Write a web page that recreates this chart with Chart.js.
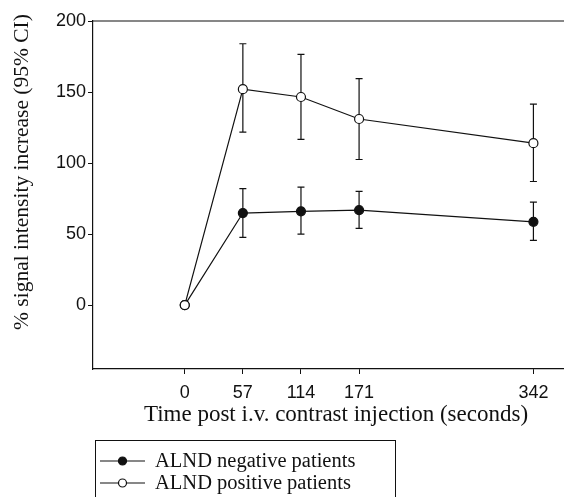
<!DOCTYPE html>
<html>
<head>
<meta charset="utf-8">
<script src="https://cdn.jsdelivr.net/npm/chart.js@4.4.0/dist/chart.umd.min.js"></script>
<style>
  body { margin: 0; background: #fff; }
  #wrap { width: 564px; height: 497px; }
</style>
</head>
<body>
<div id="wrap"><canvas id="signal" width="564" height="497"></canvas></div>
<script>
// time points (seconds) and tick values
const times = [0, 57, 114, 171, 342];
const xTicks = [0, 57, 114, 171, 342];
const yTicks = [0, 50, 100, 150, 200];

// ALND negative patients: mean and 95% CI
const negMean = [0, 64.8, 66, 66.8, 58.6];
const negUpper = [null, 82, 83, 80, 72.5];
const negLower = [null, 47.7, 50, 54, 45.5];

// ALND positive patients: mean and 95% CI
const posMean = [0, 152, 146.5, 131, 114];
const posUpper = [null, 184, 176.5, 159.5, 141.5];
const posLower = [null, 121.8, 116.6, 102.5, 87];

const ink = '#111';
const serif = '"Liberation Serif", "Times New Roman", serif';
const sans = '"Liberation Sans", Arial, sans-serif';

const toPoints = (ys) => times.map((t, i) => ({ x: t, y: ys[i] }));

// error bars, drawn under the markers
const errorBars = {
    id: 'errorBars',
    beforeDatasetsDraw(chart) {
        const { ctx, scales: { x, y } } = chart;
        ctx.save();
        ctx.strokeStyle = ink;
        ctx.lineWidth = 1.2;
        chart.data.datasets.forEach(ds => {
            ds.upper.forEach((hi, i) => {
                if (hi === null) return;
                const px = x.getPixelForValue(times[i]);
                const top = y.getPixelForValue(hi);
                const bot = y.getPixelForValue(ds.lower[i]);
                ctx.beginPath();
                ctx.moveTo(px, top); ctx.lineTo(px, bot);
                ctx.moveTo(px - 3.5, top); ctx.lineTo(px + 3.5, top);
                ctx.moveTo(px - 3.5, bot); ctx.lineTo(px + 3.5, bot);
                ctx.stroke();
            });
        });
        ctx.restore();
    }
};

// top frame line, axis titles and the boxed legend
const decorations = {
    id: 'decorations',
    afterDraw(chart) {
        const { ctx, chartArea } = chart;
        ctx.save();
        ctx.strokeStyle = ink;
        ctx.lineWidth = 1.2;
        ctx.beginPath();
        ctx.moveTo(chartArea.left, chartArea.top);
        ctx.lineTo(chartArea.right, chartArea.top);
        ctx.stroke();

        ctx.fillStyle = ink;
        ctx.textAlign = 'center';
        ctx.textBaseline = 'middle';
        ctx.font = '23px ' + serif;
        ctx.fillText('Time post i.v. contrast injection (seconds)', 336, 415);

        ctx.save();
        ctx.font = '21.5px ' + serif;
        ctx.translate(22, 172);
        ctx.rotate(-Math.PI / 2);
        ctx.fillText('% signal intensity increase (95% CI)', 0, 0);
        ctx.restore();

        // legend
        ctx.lineWidth = 1;
        ctx.strokeRect(95.5, 440.5, 300, 90);
        ctx.font = '20.5px ' + serif;
        const order = [1, 0];
        order.forEach((di, row) => {
            const ds = chart.data.datasets[di];
            const cy = 461 + row * 22;
            ctx.beginPath();
            ctx.lineWidth = 1.2;
            ctx.moveTo(100, cy); ctx.lineTo(145, cy);
            ctx.stroke();
            ctx.beginPath();
            ctx.arc(122.5, cy, 4, 0, Math.PI * 2);
            ctx.fillStyle = ds.pointBackgroundColor;
            ctx.fill();
            ctx.stroke();
            ctx.fillStyle = ink;
            ctx.textAlign = 'left';
            ctx.fillText(ds.label, 155, cy + 1);
        });
        ctx.restore();
    }
};

const tickFilter = (list) => (scale) => {
    scale.ticks = list.map(v => ({ value: v }));
};

new Chart(document.getElementById('signal'), {
    type: 'line',
    data: {
        datasets: [
            {
                label: 'ALND positive patients',
                data: toPoints(posMean),
                upper: posUpper,
                lower: posLower,
                borderColor: ink,
                borderWidth: 1.2,
                pointRadius: 4.5,
                pointBorderWidth: 1.2,
                pointBorderColor: ink,
                pointBackgroundColor: '#fff',
                order: 0
            },
            {
                label: 'ALND negative patients',
                data: toPoints(negMean),
                upper: negUpper,
                lower: negLower,
                borderColor: ink,
                borderWidth: 1.2,
                pointRadius: 4.5,
                pointBorderWidth: 1.2,
                pointBorderColor: ink,
                pointBackgroundColor: ink,
                order: 1
            }
        ]
    },
    options: {
        responsive: false,
        animation: false,
        devicePixelRatio: 1,
        layout: { autoPadding: false, padding: { left: 0, top: 21, right: 0, bottom: 65 } },
        plugins: { legend: { display: false }, tooltip: { enabled: false } },
        scales: {
            x: {
                type: 'linear',
                min: -90,
                max: 372,
                afterBuildTicks: tickFilter(xTicks),
                afterFit(scale) {
                    scale.height = 63;
                    scale.paddingLeft = 0;
                    scale.paddingRight = 0;
                },
                grid: { drawOnChartArea: false, drawTicks: true, tickLength: 5, color: ink },
                border: { display: true, color: ink, width: 1.2 },
                ticks: { color: ink, font: { family: sans, size: 18 }, padding: 8, maxRotation: 0 }
            },
            y: {
                min: -45,
                max: 200,
                afterBuildTicks: tickFilter(yTicks),
                afterFit(scale) { scale.width = 93; },
                grid: { drawOnChartArea: false, drawTicks: true, tickLength: 5, color: ink },
                border: { display: true, color: ink, width: 1.2 },
                ticks: { color: ink, font: { family: sans, size: 18 }, padding: 2 }
            }
        }
    },
    plugins: [errorBars, decorations]
});
</script>
</body>
</html>
